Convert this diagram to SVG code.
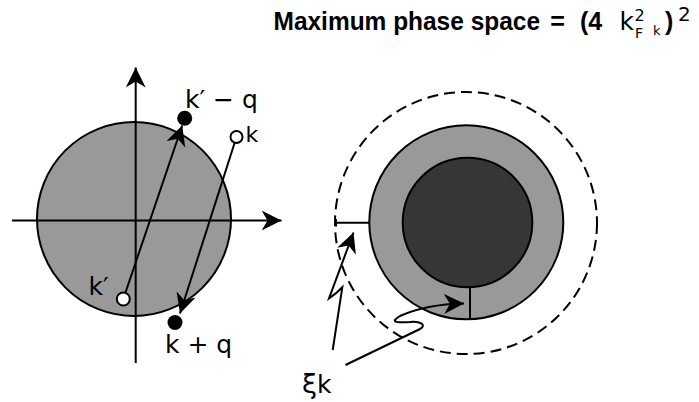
<svg xmlns="http://www.w3.org/2000/svg" width="699" height="402" viewBox="0 0 699 402">
<style>
.ln{stroke:#000;stroke-width:2;fill:none}
.lbl{font-family:"DejaVu Sans",sans-serif;fill:#000}
.ttl{font-family:"Liberation Sans",Arial,sans-serif;fill:#000}
.b{font-weight:bold;font-size:25px}
.r{font-family:"DejaVu Sans",sans-serif}
</style>
<defs>
<marker id="ah" markerUnits="userSpaceOnUse" viewBox="0 0 20 20" refX="20" refY="10" markerWidth="20" markerHeight="20" orient="auto">
<path d="M20,10 L0,0 L6,10 L0,20 z" fill="#000"/>
</marker>
</defs>
<rect width="699" height="402" fill="#fff"/>
<g id="title" class="ttl">
<text x="273.5" y="30" class="b" textLength="266.5" lengthAdjust="spacingAndGlyphs">Maximum phase space</text>
<text x="557.5" y="30" class="b" text-anchor="middle">=</text>
<text x="580" y="30" class="b">(4</text>
<text x="619.5" y="30" class="r" font-size="25">k</text>
<text x="634.5" y="21" class="r" font-size="16">2</text>
<text x="635" y="38" class="r" font-size="14">F</text>
<text x="653" y="35" class="r" font-size="13">k</text>
<text x="665" y="30" class="b">)</text>
<text x="678" y="20.5" class="r" font-size="20">2</text>
</g>
<g id="fermi-sphere">
<circle cx="134" cy="219" r="97" fill="#999" stroke="#000" stroke-width="2"/>
</g>
<g id="connectors">
<line class="ln" x1="12" y1="220.5" x2="281.5" y2="220.5" marker-end="url(#ah)"/>
<line class="ln" x1="135.7" y1="363" x2="135.7" y2="67.5" marker-end="url(#ah)"/>
<line class="ln" x1="123.3" y1="299" x2="182.2" y2="125.5" marker-end="url(#ah)"/>
<line class="ln" x1="236.5" y1="137" x2="180" y2="313.5" marker-end="url(#ah)"/>
</g>
<g id="points">
<circle id="kp" cx="123.3" cy="299" r="6.5" fill="#fff" stroke="#000" stroke-width="2"/>
<circle id="kpq" cx="184.7" cy="118.3" r="7.5" fill="#000"/>
<circle id="k" cx="236.5" cy="137" r="6" fill="#fff" stroke="#000" stroke-width="2"/>
<circle id="kq" cx="175" cy="322.5" r="7.5" fill="#000"/>
</g>
<g id="labels" class="lbl">
<text x="185" y="108" font-size="25">k′ − q</text>
<text x="245.5" y="141.5" font-size="22">k</text>
<text x="88.5" y="295" font-size="25">k′</text>
<text x="165" y="353" font-size="25">k + q</text>
</g>
<g id="shells">
<circle cx="466" cy="223" r="131" fill="none" stroke="#000" stroke-width="2" stroke-dasharray="11 6"/>
<circle cx="466.3" cy="222.3" r="97" fill="#999" stroke="#000" stroke-width="2"/>
<circle cx="467.5" cy="222.5" r="64.8" fill="#363636" stroke="#000" stroke-width="2"/>
</g>
<g id="ticks">
<line class="ln" x1="336" y1="222.7" x2="369.3" y2="222.7"/>
<line class="ln" x1="336" y1="219" x2="336" y2="226.5"/>
<line class="ln" x1="470" y1="287.5" x2="470" y2="319.5"/>
</g>
<g id="xi-arrows">
<path class="ln" d="M332.7,350 L342.3,287.3 Q337,293 329,298.5 L353.5,232.5" marker-end="url(#ah)"/>
<path class="ln" d="M345.5,365 L419,329.5 C428,325 420,321 410,322 C395,323 390,322 400,316 C420,307 440,304 464,303.5" marker-end="url(#ah)"/>
</g>
<g id="xi-label" class="lbl">
<text x="302" y="393" font-size="27">ξ<tspan font-size="25">k</tspan></text>
</g>
</svg>
